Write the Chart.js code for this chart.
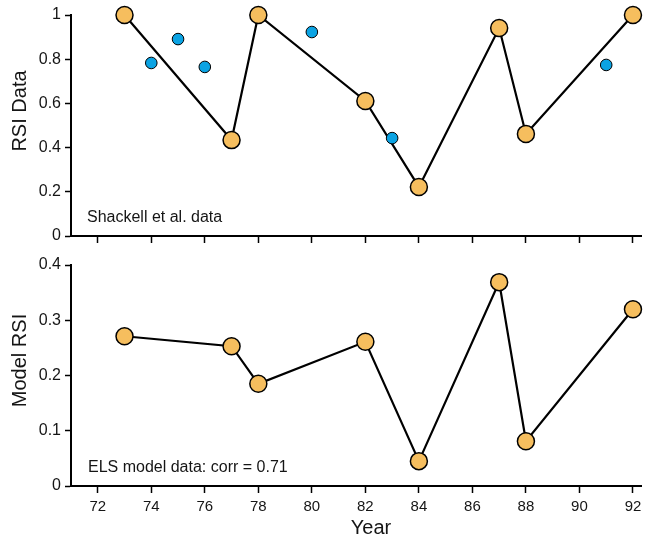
<!DOCTYPE html>
<html>
<head>
<meta charset="utf-8">
<script src="https://cdn.jsdelivr.net/npm/chart.js@4.4.1/dist/chart.umd.min.js"></script>
<style>
body { margin: 0; background: #fff; }
#wrap { position: relative; width: 655px; height: 541px; }
canvas { position: absolute; left: 0; }
</style>
</head>
<body>
<div id="wrap">
  <canvas id="topChart" width="655" height="250" style="top:0"></canvas>
  <canvas id="bottomChart" width="655" height="291" style="top:250px"></canvas>
</div>
<script>
// 데이터 (years = 19xx)
const years = [73, 77, 78, 82, 84, 87, 88, 92];
const rsiData = [1.0, 0.434, 1.0, 0.611, 0.222, 0.941, 0.462, 1.0];
const extraYears = [74, 75, 76, 80, 83, 91];
const extraRsi = [0.783, 0.891, 0.765, 0.923, 0.443, 0.774];
const modelRsi = [0.271, 0.253, 0.185, 0.261, 0.045, 0.369, 0.081, 0.320];

const yearTicks = [72, 74, 76, 78, 80, 82, 84, 86, 88, 90, 92];
const topTicks = [0, 0.2, 0.4, 0.6, 0.8, 1];
const bottomTicks = [0, 0.1, 0.2, 0.3, 0.4];

const ORANGE = '#F6BE5E';
const BLUE = '#0BA3E3';
const FONT = '"Liberation Sans", Arial, Helvetica, sans-serif';

Chart.defaults.font.family = FONT;
Chart.defaults.color = '#151515';

const toPoints = (xs, ys) => xs.map((x, i) => ({ x: x, y: ys[i] }));

//텍스트(주석, 축 제목) 그리는 플러그인
const textPlugin = {
  id: 'texts',
  afterDraw(chart, args, opts) {
    const ctx = chart.ctx;
    (opts.items || []).forEach(it => {
      ctx.save();
      ctx.fillStyle = '#151515';
      ctx.font = it.size + 'px ' + FONT;
      ctx.textAlign = it.align || 'left';
      ctx.textBaseline = it.baseline || 'alphabetic';
      ctx.translate(it.x, it.y);
      if (it.rotate) ctx.rotate(it.rotate);
      ctx.fillText(it.text, 0, 0);
      ctx.restore();
    });
  }
};

function xScale(showLabels, h) {
  return {
    type: 'linear',
    min: 71,
    max: 92.3,
    afterBuildTicks: s => { s.ticks = yearTicks.map(v => ({ value: v })); },
    afterFit: s => { s.height = h; },
    grid: { drawOnChartArea: false, drawTicks: true, tickLength: 7, tickColor: '#000', tickWidth: 1.5 },
    border: { display: true, color: '#000', width: 2 },
    ticks: { display: showLabels, padding: 5, autoSkip: false, maxRotation: 0,
             font: { size: 15 }, callback: v => String(v) }
  };
}

function yScale(max, ticks) {
  return {
    type: 'linear',
    min: 0,
    max: max,
    afterBuildTicks: s => { s.ticks = ticks.map(v => ({ value: v })); },
    afterFit: s => { s.width = 71; },
    grid: { drawOnChartArea: false, drawTicks: true, tickLength: 6, tickColor: '#000', tickWidth: 1.5 },
    border: { display: true, color: '#000', width: 2 },
    ticks: { padding: 4, font: { size: 16 }, callback: v => String(v) }
  };
}

function mainSet(ys) {
  return {
    data: toPoints(years, ys),
    showLine: true,
    borderColor: '#000',
    borderWidth: 2.2,
    pointBackgroundColor: ORANGE,
    pointBorderColor: '#000',
    pointBorderWidth: 1.5,
    pointRadius: 8.5,
    clip: false,
    order: 2
  };
}

// 위 패널
new Chart(document.getElementById('topChart'), {
  type: 'scatter',
  data: {
    datasets: [
      {
        data: toPoints(extraYears, extraRsi),
        pointBackgroundColor: BLUE,
        pointBorderColor: '#000',
        pointBorderWidth: 1,
        pointRadius: 5.8,
        clip: false,
        order: 1
      },
      mainSet(rsiData)
    ]
  },
  options: {
    responsive: false,
    animation: false,
    layout: { padding: { top: 15, right: 14, bottom: 0, left: 0 } },
    plugins: {
      legend: { display: false },
      tooltip: { enabled: false },
      texts: { items: [
        { text: 'Shackell et al. data', x: 87, y: 222, size: 16 },
        { text: 'RSI Data', x: 20.5, y: 111, size: 20, align: 'center', baseline: 'middle', rotate: -Math.PI / 2 }
      ] }
    },
    scales: { x: xScale(false, 14), y: yScale(1, topTicks) }
  },
  plugins: [textPlugin]
});

// 아래 패널
new Chart(document.getElementById('bottomChart'), {
  type: 'scatter',
  data: { datasets: [mainSet(modelRsi)] },
  options: {
    responsive: false,
    animation: false,
    layout: { padding: { top: 15, right: 14, bottom: 0, left: 0 } },
    plugins: {
      legend: { display: false },
      tooltip: { enabled: false },
      texts: { items: [
        { text: 'ELS model data: corr = 0.71', x: 88, y: 222, size: 16 },
        { text: 'Model RSI', x: 20.5, y: 110.5, size: 20, align: 'center', baseline: 'middle', rotate: -Math.PI / 2 },
        { text: 'Year', x: 371, y: 278, size: 20, align: 'center', baseline: 'middle' }
      ] }
    },
    scales: { x: xScale(true, 55), y: yScale(0.4, bottomTicks) }
  },
  plugins: [textPlugin]
});
</script>
</body>
</html>
